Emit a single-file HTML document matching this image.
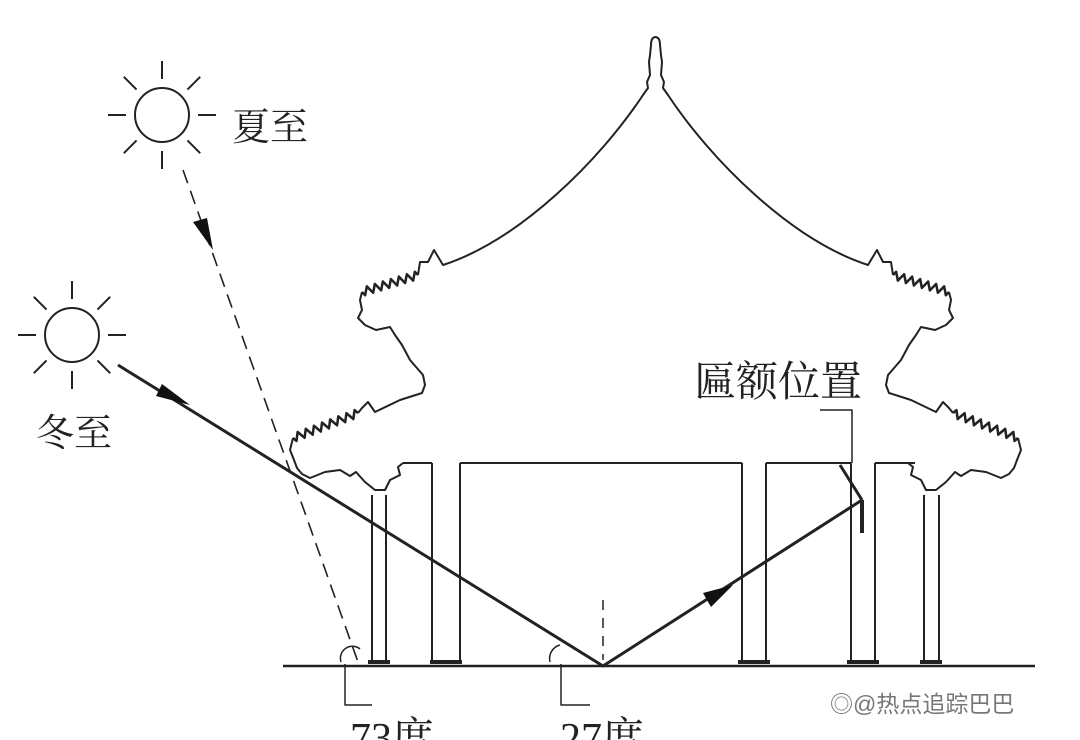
<!DOCTYPE html>
<html><head><meta charset="utf-8"><style>
html,body{margin:0;padding:0;background:#fff;width:1080px;height:740px;overflow:hidden}
svg{display:block}
text{font-family:"Liberation Serif","Noto Serif CJK SC",serif;fill:#222}
</style></head><body>
<svg id="s" width="1080" height="740" viewBox="0 0 1080 740" xmlns="http://www.w3.org/2000/svg">
<g fill="none" stroke="#222" stroke-width="2" stroke-linejoin="round">
 <g id="half">
  <path d="M656,37 Q651,37 651,45 L650,55 L649,62 L650,75 L647,82 L648,88 L643,95 C600,160 520,240 443,265 L434,250 L428,262 L420,262 L418,275"/>
  <path d="M362,292 L360,300 L362,310 L358,318 L365,325 L376,330 L390,327 L395,335 L402,345 L410,360 L423,375 L425,385 L422,393 L400,400 L375,412 L368,402 L362,408 L358,413"/>
  <path d="M293,438 L290,450 L294,460 L297,468 L302,474 L310,478 L325,472 L340,470 L350,476 L356,472 L365,482 L375,490 L385,490 L390,480 L400,475 L398,467 L403,463"/>
  <path id="f1" stroke-width="2.5"/>
  <path id="f2" stroke-width="2.5"/>
 </g>
 <use href="#half" transform="translate(1311,0) scale(-1,1)"/>
 <path d="M372,495 V662 M386,495 V662 M432,463 V662 M460,463 V662 M460,463 H742 M742,463 V662 M766,463 V662 M766,463 H851 M851,463 V662 M875,463 V662 M875,463 H915 M924,495 V662 M939,495 V662 M432,463 H403"/>
 <path d="M368,662 h22 M430,662 h32 M738,662 h32 M847,662 h32 M920,662 h22" stroke-width="4"/>
 <path d="M283,666 H1035" stroke-width="2.5"/>
 <path d="M183,170 L358,662" stroke-dasharray="14,8" stroke-width="1.6"/>
 <path d="M118,365 L603,666 L862,500" stroke-width="3"/>
 <path d="M862,500 V533" stroke-width="4"/>
 <path d="M840,465 L862,500" stroke-width="3"/>
 <path d="M603,600 V660" stroke-dasharray="10,8" stroke-width="1.5"/>
 <path d="M820,410 H852 V463" stroke-width="1.5"/>
 <path d="M341,662 A12,12 0 0 1 360,649" stroke-width="1.5"/>
 <path d="M345,664 V705 H372" stroke-width="1.5"/>
 <path d="M550,662 A14,14 0 0 1 560,645" stroke-width="1.5"/>
 <path d="M561,664 V705 H590" stroke-width="1.5"/>
 <circle cx="162" cy="115" r="27"/>
 <circle cx="72" cy="335" r="27"/>
 <g id="rays"></g>
</g>
<g fill="#111">
 <polygon points="190,405 162,384 156,396"/>
 <polygon points="213,250 193,222 207,218"/>
 <polygon points="733,585 703,593 711,607"/>
</g>
<text x="232" y="140" font-size="38">夏至</text>
<text x="36" y="446" font-size="38">冬至</text>
<text x="694" y="396" font-size="42">匾额位置</text>
<text x="350" y="752" font-size="42">73度</text>
<text x="560" y="752" font-size="42">27度</text>
<text x="830" y="712" font-size="23" style="fill:#777;font-family:'Liberation Sans','Noto Sans CJK SC',sans-serif">◎@热点追踪巴巴</text>
</svg>
<script>
function zig(id,x1,y1,x2,y2,n){var dx=(x2-x1)/n,dy=(y2-y1)/n,L=Math.hypot(dx,dy),nx=-dy/L*4,ny=dx/L*4,d="M"+x1+","+y1;
for(var i=1;i<=n;i++){var mx=x1+dx*(i-0.5),my=y1+dy*(i-0.5);d+=" L"+(mx+nx*(i%2?1:-1))+","+(my+ny*(i%2?1:-1))+" L"+(x1+dx*i)+","+(y1+dy*i);}
document.getElementById(id).setAttribute("d",d);}
zig("f1",418,275,362,292,14);zig("f2",358,413,293,438,16);
var g=document.getElementById("rays"),s="";
[[162,115],[72,335]].forEach(function(c){for(var k=0;k<8;k++){var a=k*Math.PI/4,r1=36,r2=54;
s+='<line x1="'+(c[0]+r1*Math.cos(a))+'" y1="'+(c[1]+r1*Math.sin(a))+'" x2="'+(c[0]+r2*Math.cos(a))+'" y2="'+(c[1]+r2*Math.sin(a))+'"/>';}});
g.innerHTML=s;
</script>
</body></html>
